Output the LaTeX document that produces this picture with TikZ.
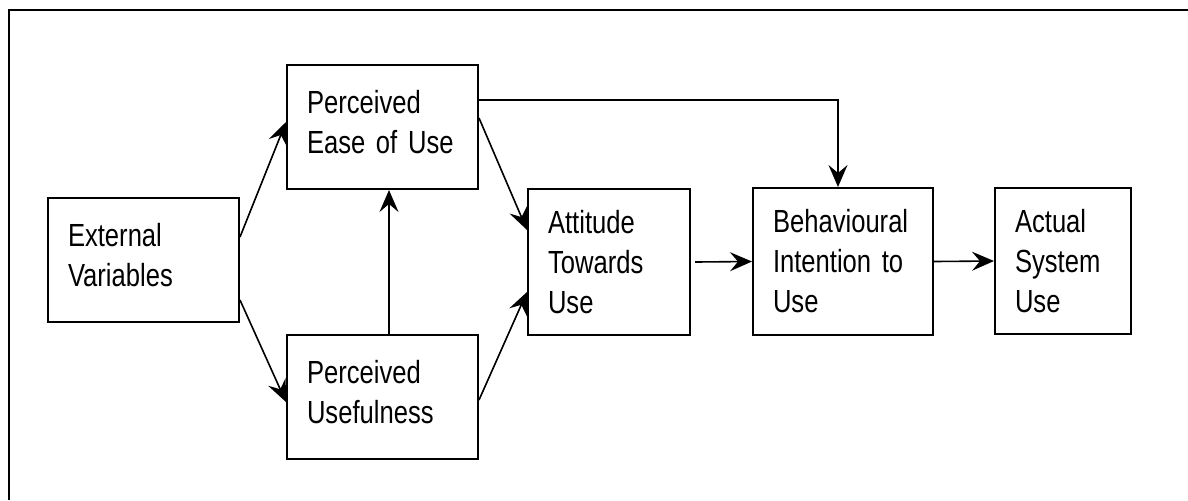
\documentclass[tikz,border=0pt]{standalone}
\usepackage{fontspec}
\setmainfont{Liberation Sans}[FakeStretch=0.8]
\usepackage{tikz}
\usetikzlibrary{arrows.meta}

\newcommand\tamfont{\fontsize{16pt}{20pt}\selectfont\fontdimen2\font=3.2pt\relax}

\tikzset{
    tambox/.style={draw, line width=1pt, rectangle, inner xsep=10pt, inner ysep=0pt,
        align=left, font=\tamfont, anchor=center},
    twoline/.style={text depth=25pt},
    tamarrow/.style={-{Stealth[length=11pt,width=9.5pt,inset=4pt]}, line width=0.8pt}
}

\begin{document}
\begin{tikzpicture}[x=0.5pt,y=-0.5pt]
    \useasboundingbox (0,0) rectangle (1188,500);
    % frame
    \draw   [line width=1pt](8.5,500) -- (8.5,9.5) -- (1188,9.5);
    % boxes
    \node   [tambox, twoline, text width=75.5pt, minimum height=62pt]   (ev)   at (143.5,260) {External\\Variables};
    \node   [tambox, twoline, text width=75.5pt, minimum height=62pt]   (peou) at (382.5,127) {Perceived\\Ease of Use};
    \node   [tambox, twoline, text width=75.5pt, minimum height=62pt]   (pu)   at (382.5,397) {Perceived\\Usefulness};
    \node   [tambox, text width=61pt, minimum height=73pt]     (att)  at (609,262)   {Attitude\\Towards\\Use};
    \node   [tambox, text width=70pt, minimum height=73.5pt]   (bi)   at (843,261.5) {Behavioural\\Intention to\\Use};
    \node   [tambox, text width=48pt, minimum height=73pt]     (asu)  at (1063,261)  {Actual\\System\\Use};
    % arrows
    \draw   [tamarrow]([yshift=11.5pt]ev.east) -- ([yshift=2.5pt]peou.west);
    \draw   [tamarrow]([yshift=-20pt]ev.east) -- ([yshift=-2.5pt]pu.west);
    \draw   [tamarrow]([xshift=3.25pt]pu.north) -- ([xshift=3.25pt]peou.south);
    \draw   [tamarrow]([yshift=4.5pt]peou.east) -- ([yshift=16pt]att.west);
    \draw   [tamarrow]([yshift=-1.5pt]pu.east) -- ([yshift=-15pt]att.west);
    \draw   [tamarrow]([yshift=13.5pt]peou.east) -| ([xshift=-2.5pt]bi.north);
    \draw   [tamarrow]([xshift=2pt]att.east) -- (bi.west);
    \draw   [tamarrow](bi.east) -- (asu.west);
\end{tikzpicture}
\end{document}
